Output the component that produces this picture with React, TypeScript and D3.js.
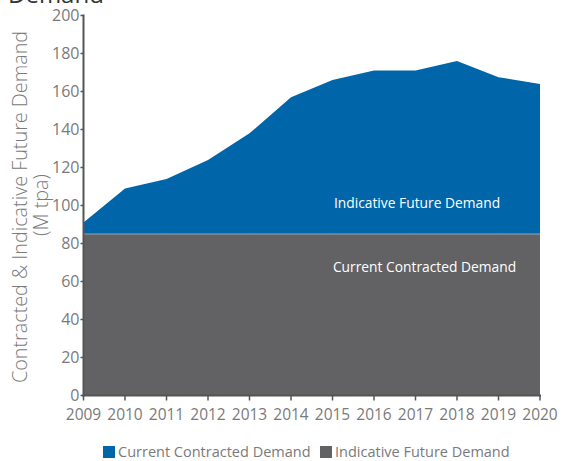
import React from "react";
import * as d3 from "d3";

const years = [2009, 2010, 2011, 2012, 2013, 2014, 2015, 2016, 2017, 2018, 2019, 2020];
const contracted = [85, 85, 85, 85, 85, 85, 85, 85, 85, 85, 85, 85];
const totalDemand = [91, 109, 114, 124, 138, 157, 166, 171, 171, 176, 167.5, 164];
const yTicks = [0, 20, 40, 60, 80, 100, 120, 140, 160, 180, 200];
const legendItems = [
  { label: "Current Contracted Demand", color: "#0066a9" },
  { label: "Indicative Future Demand", color: "#626264" },
];

const BLUE = "#0066a9";
const GRAY = "#626264";
const TEXT = "#7a7a7a";
const FONT = "'Open Sans', 'Noto Sans', sans-serif";

export default function App() {
  const x = d3.scaleLinear().domain([2009, 2020]).range([83.5, 540]);
  const y = d3.scaleLinear().domain([0, 200]).range([395.5, 15.5]);

  const rows = years.map((yr, i) => ({ yr, c: contracted[i], t: totalDemand[i] }));

  const grayArea = d3
    .area<any>()
    .x((d) => x(d.yr))
    .y0(() => y(0))
    .y1((d) => y(d.c))(rows) as string;

  const blueArea = d3
    .area<any>()
    .x((d) => x(d.yr))
    .y0((d) => y(d.c))
    .y1((d) => y(d.t))(rows) as string;

  const boundary = d3
    .line<any>()
    .x((d) => x(d.yr))
    .y((d) => y(d.c))(rows) as string;

  const axisX = x(2009);
  const axisY = y(0);

  return (
    <svg
      width={571}
      height={461}
      style={{ position: "absolute", left: 0, top: 0, fontFamily: FONT }}
    >
      <rect width={571} height={461} fill="#fff" />
      {/* cut-off title */}
      <text x={8} y={3} fontSize={24} fill="#333" fontFamily={FONT}>
        Demand
      </text>

      <path d={blueArea} fill={BLUE} />
      <path d={grayArea} fill={GRAY} />
      <path d={boundary} fill="none" stroke="#8fa6bd" strokeWidth={1} />

      <text x={417} y={208} fontSize={13.8} fill="#fff" textAnchor="middle">
        Indicative Future Demand
      </text>
      <text x={424.5} y={272} fontSize={13.8} fill="#fff" textAnchor="middle">
        Current Contracted Demand
      </text>

      {/* y axis */}
      <line x1={axisX} x2={axisX} y1={y(200) - 1} y2={axisY + 1} stroke="#555" strokeWidth={2} />
      {yTicks.map((t) => (
        <g key={t}>
          <line x1={axisX - 3} x2={axisX} y1={y(t)} y2={y(t)} stroke="#555" strokeWidth={1.5} />
          <text
            x={axisX - 4}
            y={y(t)}
            dy="0.35em"
            fontSize={16}
            fill={TEXT}
            textAnchor="end"
          >
            {t}
          </text>
        </g>
      ))}

      {/* x axis */}
      <line x1={axisX - 1} x2={x(2020) + 1} y1={axisY} y2={axisY} stroke="#555" strokeWidth={2} />
      {years.map((yr) => (
        <g key={yr}>
          <line x1={x(yr)} x2={x(yr)} y1={axisY} y2={axisY + 5} stroke="#555" strokeWidth={1.5} />
          <text x={x(yr)} y={420} fontSize={15.5} fill={TEXT} textAnchor="middle">
            {yr}
          </text>
        </g>
      ))}

      {/* y axis title */}
      <g transform="translate(27,207) rotate(-90)">
        <text x={0} y={0} fontSize={19.8} fill={TEXT} textAnchor="middle" fontWeight={300}>
          Contracted &amp; Indicative Future Demand
        </text>
        <text x={2} y={21} fontSize={19.8} fill={TEXT} textAnchor="middle" fontWeight={300}>
          (M tpa)
        </text>
      </g>

      {/* legend */}
      {legendItems.map((it, i) => {
        const lx = i === 0 ? 103 : 320;
        return (
          <g key={it.label}>
            <rect x={lx} y={446} width={12} height={12} fill={it.color} />
            <text x={lx + 15} y={457} fontSize={14.5} fill={TEXT}>
              {it.label}
            </text>
          </g>
        );
      })}
    </svg>
  );
}
